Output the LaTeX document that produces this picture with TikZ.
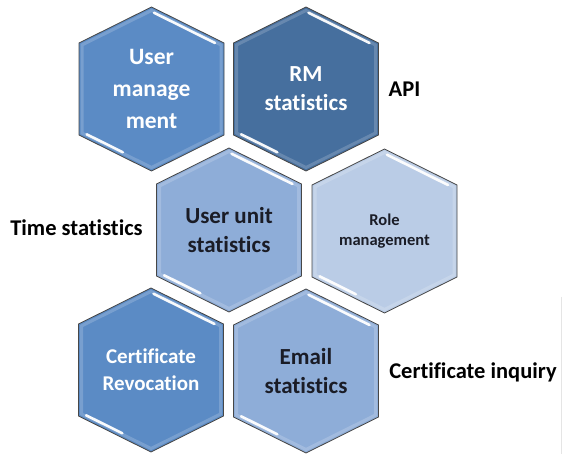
\documentclass[tikz,border=0pt]{standalone}
\usepackage{fontspec}
\setmainfont[Ligatures={NoCommon}]{Carlito}
\usetikzlibrary{calc}
\definecolor{hexA}{HTML}{5B8BC5}
\definecolor{hexB}{HTML}{466F9E}
\definecolor{hexC}{HTML}{8EADD8}
\definecolor{hexD}{HTML}{BACCE6}
\definecolor{inkdark}{HTML}{1A1C26}
\tikzset{
  hexedge/.style={draw=black!72, line width=0.8pt, line join=miter},
  shine/.style={draw=white, line width=2.6pt, line cap=round, opacity=0.95},
  rim/.style={line width=3pt, opacity=0.18},
  lbl/.style={font=\bfseries\fontsize{22.5}{26}\selectfont, text=black, anchor=base, inner sep=0pt},
  hextext/.style={align=center, inner sep=0pt, anchor=center},
}
\newcommand\hexcell[6]{%
  \begin{scope}[shift={(#2,#3)}]
    \coordinate (#1-t) at (0,-82);
    \coordinate (#1-ur) at (72.5,-46);
    \coordinate (#1-lr) at (72.5,46);
    \coordinate (#1-b) at (0,82);
    \coordinate (#1-ll) at (-72.5,46);
    \coordinate (#1-ul) at (-72.5,-46);
    \fill[#4] (#1-t) -- (#1-ur) -- (#1-lr) -- (#1-b) -- (#1-ll) -- (#1-ul) -- cycle;
    \draw[rim, white] (-69.5,-44) -- (0,-78.5) -- (69.5,-44) -- (69.5,44) -- (0,78.5) -- (-69.5,44) -- cycle;
    \draw[hexedge] (#1-t) -- (#1-ur) -- (#1-lr) -- (#1-b) -- (#1-ll) -- (#1-ul) -- cycle;
    \draw[shine] ($(#1-t)!0.06!(#1-ur)+(-1.8,3.6)$) -- ($(#1-t)!0.9!(#1-ur)+(-1.8,3.6)$);
    \draw[shine] ($(#1-ll)!0.08!(#1-b)+(1.8,-3.6)$) -- ($(#1-ll)!0.58!(#1-b)+(1.8,-3.6)$);
    \node[hextext, #5] (#1) at (0,0) {#6};
  \end{scope}}
\begin{document}
\begin{tikzpicture}[x=1pt, y=-1pt]
  \useasboundingbox (0,0) rectangle (563,454);
  \fill[white] (0,0) rectangle (563,454);
  \hexcell{um}{151.5}{89}{hexA}{text=white, font=\bfseries\fontsize{23.5}{32}\selectfont}{User\\manage\\ment}
  \hexcell{rm}{306}{89}{hexB}{text=white, font=\bfseries\fontsize{23}{29}\selectfont}{RM\\statistics}
  \hexcell{uu}{229}{230}{hexC}{text=inkdark, font=\bfseries\fontsize{23}{29}\selectfont}{User unit\\statistics}
  \hexcell{ro}{384.5}{231}{hexD}{text=inkdark, font=\bfseries\fontsize{16.5}{20.5}\selectfont}{Role\\management}
  \hexcell{cr}{151}{370}{hexA}{text=white, font=\bfseries\fontsize{21}{27}\selectfont}{Certificate\\Revocation}
  \hexcell{em}{306}{371}{hexC}{text=inkdark, font=\bfseries\fontsize{23}{29}\selectfont}{Email\\statistics}
  \node[lbl] (api) at (404.5,97) {API};
  \node[lbl] (time) at (76.5,236) {Time statistics};
  \node[lbl] (inq) at (473,379) {Certificate inquiry};
  \coordinate (edgetop) at (561.5,297);
  \coordinate (edgebot) at (561.5,454);
  \draw[black!10, line width=1pt] (edgetop) -- (edgebot);
\end{tikzpicture}
\end{document}
